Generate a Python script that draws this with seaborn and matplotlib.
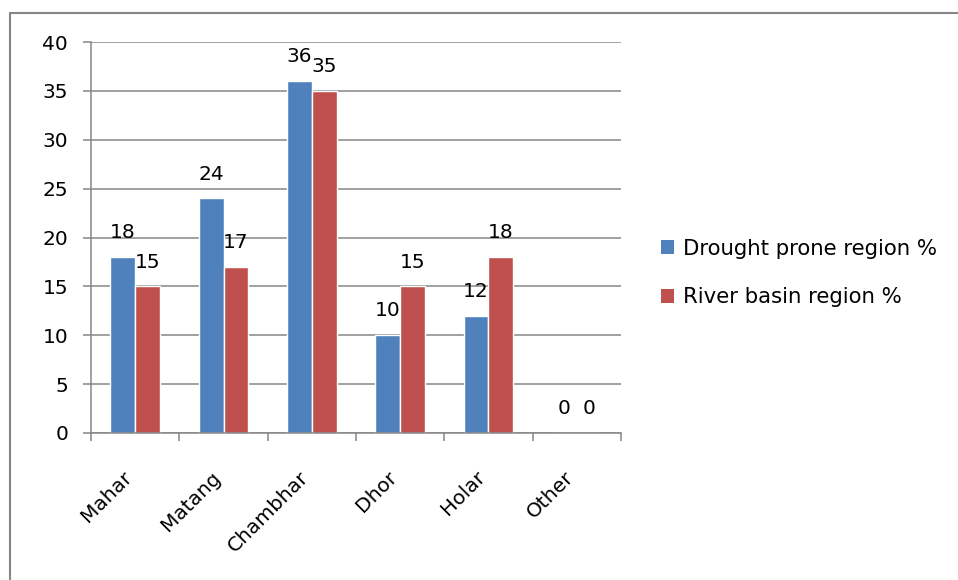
import matplotlib
matplotlib.use("Agg")
import matplotlib.pyplot as plt
from matplotlib.lines import Line2D
from matplotlib.patches import Patch
from matplotlib.transforms import ScaledTranslation
import seaborn as sns
import pandas as pd

categories = ["Mahar", "Matang", "Chambhar", "Dhor", "Holar", "Other"]
drought_prone = [18, 24, 36, 10, 12, 0]
river_basin = [15, 17, 35, 15, 18, 0]
series_names = ["Drought prone region %", "River basin region %"]
colors = ["#4F81BD", "#C0504D"]
y_ticks = [0, 5, 10, 15, 20, 25, 30, 35, 40]

df = pd.DataFrame({
    "group": categories * 2,
    "value": drought_prone + river_basin,
    "series": [series_names[0]] * len(categories) + [series_names[1]] * len(categories),
})

sns.set_theme(style="white")
plt.rcParams["font.family"] = ["DejaVu Sans"]
FS = 14.5

W, H = 958, 580
fig = plt.figure(figsize=(W / 100, H / 100), dpi=100)
ax = fig.add_axes([91 / W, 1 - 433 / H, (621 - 91) / W, (433 - 42) / H])

sns.barplot(data=df, x="group", y="value", hue="series", palette=colors,
            order=categories, hue_order=series_names, width=0.566,
            saturation=1, ax=ax, legend=False, errorbar=None)

grid_c = "#868686"
ax.set_ylim(0, 40)
ax.set_xlim(-0.5, len(categories) - 0.5)
ax.set_yticks(y_ticks)
ax.set_yticklabels([str(t) for t in y_ticks])
ax.yaxis.grid(True, color=grid_c, linewidth=1.1)
ax.set_axisbelow(True)
ax.set_xlabel("")
ax.set_ylabel("")
for s in ["top", "right"]:
    ax.spines[s].set_visible(False)
for s in ["left", "bottom"]:
    ax.spines[s].set_color(grid_c)
    ax.spines[s].set_linewidth(1.1)

ax.tick_params(axis="y", direction="out", length=5.5, width=1.1, color=grid_c,
               pad=11, labelsize=FS, labelcolor="black", left=True)
# category labels centred, boundary ticks as minor ticks
ax.set_xticks(range(len(categories)))
ax.set_xticklabels(categories, rotation=45, ha="right", rotation_mode="anchor",
                   va="center")
ax.set_xticks([i - 0.5 for i in range(len(categories) + 1)], minor=True)
ax.tick_params(axis="x", which="major", length=0, pad=27, labelsize=FS,
               labelcolor="black")
ax.tick_params(axis="x", which="minor", direction="out", length=5.5, width=1.1,
               color=grid_c, bottom=True)
shift = ScaledTranslation(-6 / 100, -4 / 100, fig.dpi_scale_trans)
for lbl in ax.get_xticklabels():
    lbl.set_transform(lbl.get_transform() + shift)

# value labels above each bar
for cont in ax.containers:
    for bar in cont:
        h = bar.get_height()
        ax.annotate(f"{h:g}", (bar.get_x() + bar.get_width() / 2, h),
                    xytext=(0, 13.5), textcoords="offset points",
                    ha="center", va="baseline", fontsize=FS, color="black")

handles = [Patch(facecolor=c, edgecolor="none") for c in colors]
fig.legend(handles, series_names, loc="center left",
           bbox_to_anchor=(661 / W, 1 - 273 / H), frameon=False,
           fontsize=15.3, labelcolor="black", handlelength=0.62,
           handleheight=0.62, handletextpad=0.42, labelspacing=1.35,
           borderpad=0, borderaxespad=0)

# chart area border (top and left edges)
fig.add_artist(Line2D([10 / W, 10 / W], [0, 1 - 13 / H], color=grid_c, lw=1.5))
fig.add_artist(Line2D([10 / W, 1], [1 - 13 / H, 1 - 13 / H], color=grid_c, lw=1.5))

fig.savefig("out.png", dpi=100, facecolor="white")
